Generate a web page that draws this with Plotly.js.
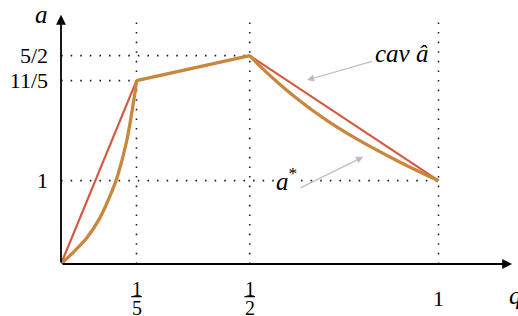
<!DOCTYPE html>
<html>
<head>
<meta charset="utf-8">
<script src="https://cdn.plot.ly/plotly-3.0.1.min.js"></script>
<style>html,body{margin:0;padding:0;background:#fff;}#chart{width:518px;height:316px;}</style>
</head>
<body>
<div id="chart"></div>
<script>
// Kink points of the concave envelope (cav â)
const cavQ = [0, 0.2, 0.5, 1];
const cavA = [0, 2.2, 2.5, 1];

// a*, in three pieces (convex / straight / convex)
const starLeftQ = [0, 0.031, 0.067, 0.102, 0.137, 0.150, 0.173, 0.186, 0.196, 0.2];
const starLeftA = [0, 0.133, 0.305, 0.545, 0.895, 1.060, 1.455, 1.775, 2.06, 2.2];
const starMidQ = [0.2, 0.5];
const starMidA = [2.2, 2.5];
const starRightQ = [0.5, 0.530, 0.574, 0.619, 0.663, 0.707, 0.742, 0.782, 0.826, 0.870, 0.914, 0.958, 1.0];
const starRightA = [2.5, 2.362, 2.177, 2.006, 1.854, 1.715, 1.613, 1.505, 1.393, 1.287, 1.186, 1.089, 1.0];

// Tick labels
const xTickVals = [0.2, 0.5, 1];
const xTickNum = ['1', '1', '1'];
const xTickDen = ['5', '2', ''];
const yTickVals = [1, 2.2, 2.5];
const yTickText = ['1', '11/5', '5/2'];

// guide lines: vertical at the kink q's, horizontal at the kink a's up to their q
const guideQ = [0.2, 0.5, 1];
const guideA = [2.2, 2.5, 1];
const guideTop = 2.9;

const serif = 'Liberation Serif';
const red = '#d35a40';
const orange = '#c8873c';

const orangeLine = {color: orange, width: 3.3, shape: 'spline', smoothing: 0.8};
const traces = [
  {x: cavQ, y: cavA, mode: 'lines', line: {color: red, width: 2.2}, cliponaxis: false, hoverinfo: 'skip', name: 'cav â'},
  {x: starLeftQ, y: starLeftA, mode: 'lines', line: orangeLine, cliponaxis: false, hoverinfo: 'skip', name: 'a*'},
  {x: starMidQ, y: starMidA, mode: 'lines', line: {color: orange, width: 3.3}, cliponaxis: false, hoverinfo: 'skip', name: 'a*'},
  {x: starRightQ, y: starRightA, mode: 'lines', line: orangeLine, cliponaxis: false, hoverinfo: 'skip', name: 'a*'}
];

const shapes = [];
const dotted = {color: '#222', width: 1.6, dash: '1.6px,8px'};
guideQ.forEach(q => shapes.push({type: 'line', xref: 'x', yref: 'y', x0: q, x1: q, y0: 0, y1: guideTop, line: dotted, layer: 'below'}));
guideA.forEach((a, i) => shapes.push({type: 'line', xref: 'x', yref: 'y', x0: 0, x1: guideQ[i], y0: a, y1: a, line: dotted, layer: 'below'}));

const annotations = [];
// axes with arrows
annotations.push({x: 1.195, y: 0, ax: 0, ay: 0, axref: 'x', ayref: 'y', xref: 'x', yref: 'y', text: '', showarrow: true,
  arrowhead: 2, arrowsize: 1.1, arrowwidth: 1.8, arrowcolor: '#000', standoff: 0, startstandoff: 0});
annotations.push({x: 0, y: 2.99, ax: 0, ay: 0, axref: 'x', ayref: 'y', xref: 'x', yref: 'y', text: '', showarrow: true,
  arrowhead: 2, arrowsize: 1.1, arrowwidth: 1.8, arrowcolor: '#000', standoff: 0, startstandoff: 0});

// x tick labels (fractions)
xTickVals.forEach((v, i) => {
  if (xTickDen[i]) {
    annotations.push({x: v, y: -0.100, xref: 'x', yref: 'paper', text: xTickNum[i], showarrow: false,
      font: {family: serif, size: 20, color: '#000'}, xanchor: 'center', yanchor: 'middle'});
    annotations.push({x: v, y: -0.177, xref: 'x', yref: 'paper', text: xTickDen[i], showarrow: false,
      font: {family: serif, size: 20, color: '#000'}, xanchor: 'center', yanchor: 'middle'});
    shapes.push({type: 'line', xref: 'x', yref: 'paper', x0: v - 0.014, x1: v + 0.014, y0: -0.1305, y1: -0.1305,
      line: {color: '#000', width: 1.3}});
  } else {
    annotations.push({x: v, y: -0.138, xref: 'x', yref: 'paper', text: xTickNum[i], showarrow: false,
      font: {family: serif, size: 22, color: '#000'}, xanchor: 'center', yanchor: 'middle'});
  }
});

// axis titles
annotations.push({x: -0.042, y: 1.0, xref: 'paper', yref: 'paper', text: '<i>a</i>', showarrow: false,
  font: {family: serif, size: 25, color: '#000'}, xanchor: 'center', yanchor: 'middle'});
annotations.push({x: 0.985, y: -0.125, xref: 'paper', yref: 'paper', text: '<i>q</i>', showarrow: false,
  font: {family: serif, size: 25, color: '#000'}, xanchor: 'left', yanchor: 'middle'});

// curve labels with pointer arrows
annotations.push({x: 0.6517, y: 2.208, ax: 0.9007, ay: 2.53, axref: 'x', ayref: 'y', xref: 'x', yref: 'y',
  text: '<i>cav â</i>', showarrow: true, arrowhead: 2, arrowsize: 1.2, arrowwidth: 1.2, arrowcolor: '#bdbdbd',
  standoff: 0, startstandoff: 0, borderpad: 2, font: {family: serif, size: 25, color: '#000'}});
annotations.push({x: 0.5656, y: 1.02, xref: 'x', yref: 'y', text: '<i>a</i><sup>*</sup>', showarrow: false,
  font: {family: serif, size: 25, color: '#000'}, xanchor: 'left', yanchor: 'middle', bgcolor: '#fff', borderpad: 0});
annotations.push({x: 0.8005, y: 1.286, ax: 0.6303, ay: 0.905, axref: 'x', ayref: 'y', xref: 'x', yref: 'y', text: '',
  showarrow: true, arrowhead: 2, arrowsize: 1.2, arrowwidth: 1.2, arrowcolor: '#bdbdbd', standoff: 0, startstandoff: 0});

const layout = {
  width: 518, height: 316,
  margin: {l: 61, r: 4, t: 14, b: 52},
  paper_bgcolor: '#fff', plot_bgcolor: '#fff',
  showlegend: false,
  font: {family: serif, color: '#000'},
  xaxis: {range: [0, 1.2], showgrid: false, zeroline: false, showline: false, showticklabels: false, ticks: '', fixedrange: true},
  yaxis: {range: [0, 3.0], showgrid: false, zeroline: false, showline: false, ticks: '',
    tickmode: 'array', tickvals: yTickVals, ticktext: yTickText, ticklabelstandoff: 12,
    tickfont: {family: serif, size: 22, color: '#000'}, fixedrange: true},
  shapes: shapes,
  annotations: annotations
};

Plotly.newPlot('chart', traces, layout, {displayModeBar: false, staticPlot: true});
</script>
</body>
</html>
